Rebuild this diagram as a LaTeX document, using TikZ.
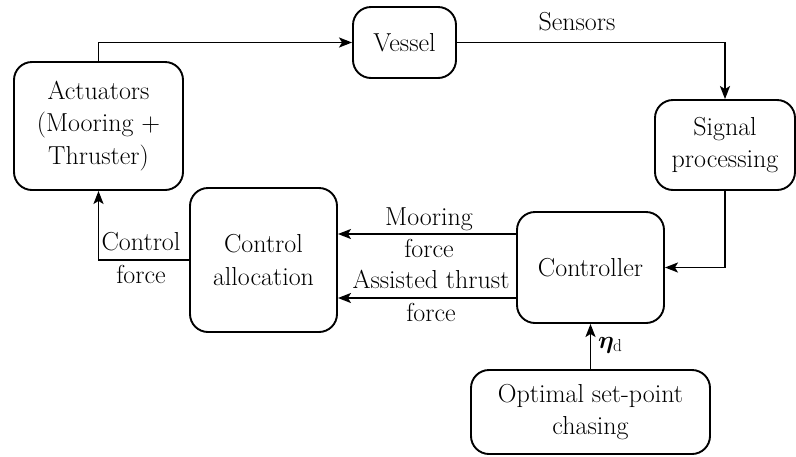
\documentclass[tikz,border=0pt]{standalone}
\usepackage{bm}
\usetikzlibrary{arrows.meta}
\begin{document}
\begin{tikzpicture}[x=1pt,y=-1pt,
  font=\fontsize{26}{32.4}\selectfont,
  blk/.style={draw,line width=1.9pt,rounded corners=18pt,align=center,inner sep=0pt},
  conn/.style={line width=1.9pt,-{Stealth[length=13pt,width=10pt,inset=3pt]}},
  lbl/.style={align=center,inner sep=0pt}]
\useasboundingbox (0,0) rectangle (796,456);
\node[blk,minimum width=103pt,minimum height=71pt] (vessel) at (404.5,42.5) {Vessel};
\node[blk,minimum width=169pt,minimum height=128pt] (act) at (98.5,126) {Actuators\\(Mooring +\\Thruster)};
\node[blk,minimum width=140pt,minimum height=90pt] (sig) at (725,145) {Signal\\processing};
\node[blk,minimum width=147pt,minimum height=111pt] (ctrl) at (590.5,267.5) {Controller};
\node[blk,minimum width=147pt,minimum height=144pt] (alloc) at (263.5,260) {Control\\allocation};
\node[blk,minimum width=239pt,minimum height=84pt] (opt) at (590.5,412) {Optimal set-point\\chasing};
\draw[conn] (act.north) |- (vessel.west);
\draw[conn] (vessel.east) -| (sig.north);
\draw[conn] (sig.south) |- (ctrl.east);
\draw[conn] ([yshift=33.5pt]ctrl.west) -- ([yshift=26pt]alloc.east);
\draw[conn] ([yshift=-30.5pt]ctrl.west) -- ([yshift=-38pt]alloc.east);
\draw[conn] (alloc.west) -| (act.south);
\draw[conn] (opt.north) -- (ctrl.south);
\node[lbl] (lsens) at (577,22) {Sensors};
\node[lbl] (lmoor) at (429,233) {Mooring\\force};
\node[lbl] (lass) at (431,296) {Assisted thrust\\force};
\node[lbl] (lcf) at (141,258) {Control\\force};
\node[lbl,anchor=west] (leta) at (598,345) {$\bm{\eta}_{\mathrm{d}}$};
\end{tikzpicture}
\end{document}
